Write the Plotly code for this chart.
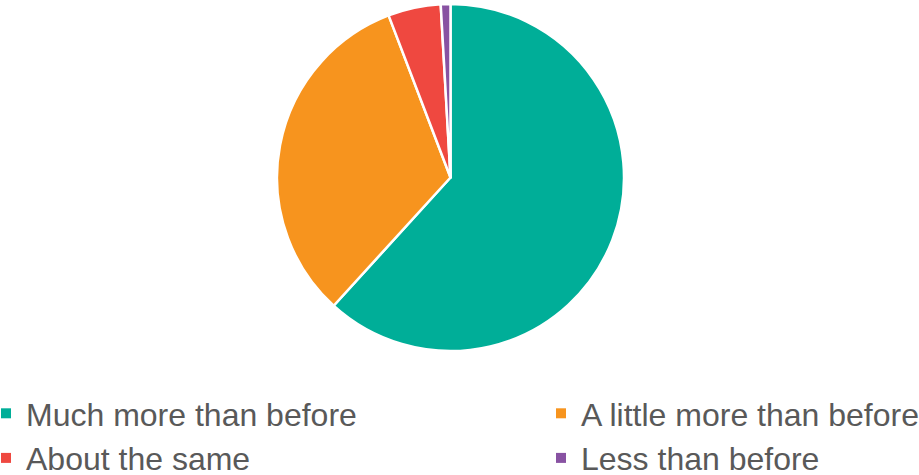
import plotly.graph_objects as go

labels = ["Much more than before", "A little more than before", "About the same", "Less than before"]
values = [61.7, 32.4, 4.9, 0.9]
colors = ["#00AE98", "#F7941E", "#EF4840", "#8852A2"]
legend_column = ["legend", "legend2", "legend", "legend2"]

fig = go.Figure()
fig.add_trace(go.Pie(
    labels=labels,
    values=values,
    sort=False,
    direction="clockwise",
    rotation=0,
    textinfo="none",
    hoverinfo="label+percent",
    showlegend=False,
    marker=dict(colors=colors, line=dict(color="#FFFFFF", width=2.5)),
    domain=dict(x=[0, 0.98042], y=[1 - 351 / 475, 1 - 4 / 475]),
))

# legend entries (two columns, same order as the reference)
for lab, col, lg in zip(labels, colors, legend_column):
    fig.add_trace(go.Scatter(
        x=[None], y=[None], mode="markers", name=lab,
        marker=dict(symbol="square", size=10, color=col),
        legend=lg, legendgroup=lab, showlegend=True, hoverinfo="skip",
    ))

legend_style = dict(
    orientation="v",
    xanchor="left",
    yanchor="top",
    y=1 - 386 / 475,
    font=dict(size=32, color="#595959"),
    itemclick=False,
    itemdoubleclick=False,
    bgcolor="rgba(0,0,0,0)",
    tracegroupgap=0,
)

fig.update_layout(
    width=919,
    height=475,
    margin=dict(l=0, r=0, t=0, b=0, autoexpand=False),
    paper_bgcolor="#FFFFFF",
    plot_bgcolor="#FFFFFF",
    font=dict(family="Liberation Sans, Arial, sans-serif", color="#595959"),
    showlegend=True,
    xaxis=dict(visible=False),
    yaxis=dict(visible=False),
    legend=dict(x=-14 / 919, **legend_style),
    legend2=dict(x=541 / 919, **legend_style),
)

fig.write_html(
    "out.html",
    config={"displayModeBar": False},
    post_script="document.body.style.margin='0';document.body.style.overflow='hidden';",
)
